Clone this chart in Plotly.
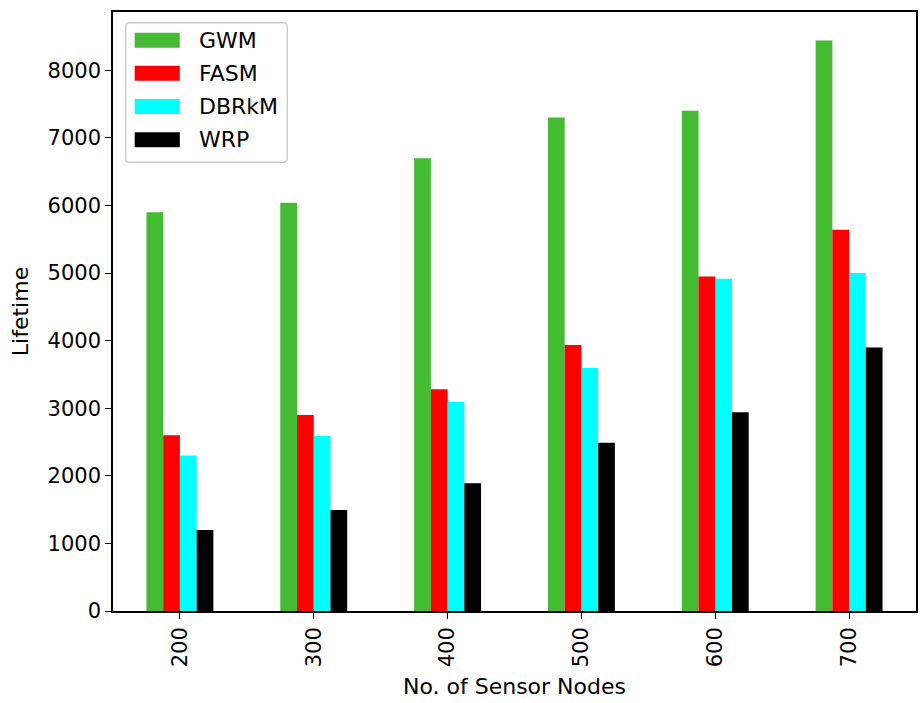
import plotly.graph_objects as go

# Network sizes (number of sensor nodes) and network lifetime per routing scheme
nodes = ["200", "300", "400", "500", "600", "700"]
gwm = [5900, 6040, 6700, 7300, 7400, 8440]
fasm = [2600, 2900, 3280, 3935, 4950, 5640]
dbrkm = [2300, 2590, 3095, 3595, 4915, 5000]
wrp = [1200, 1495, 1890, 2490, 2940, 3900]

series = [
    ("GWM", gwm, "#44BB33"),
    ("FASM", fasm, "#FF0000"),
    ("DBRkM", dbrkm, "#00FFFF"),
    ("WRP", wrp, "#000000"),
]

font_family = "DejaVu Sans"

fig = go.Figure()
for name, vals, color in series:
    fig.add_trace(go.Bar(
        x=list(range(len(nodes))),
        y=vals,
        name=name,
        marker=dict(color=color, line=dict(width=0)),
        showlegend=False,
    ))

ymax = max(gwm) * 1.05

# Legend frame with rounded corners (paper coordinates; plot area is 805 x 599 px)
lx0, lx1, ly0, ly1 = 0.0158, 0.2170, 0.7491, 0.9821
rx, ry = 4 / 805, 4 / 599
frame = (
    f"M {lx0 + rx},{ly1} L {lx1 - rx},{ly1} Q {lx1},{ly1} {lx1},{ly1 - ry} "
    f"L {lx1},{ly0 + ry} Q {lx1},{ly0} {lx1 - rx},{ly0} "
    f"L {lx0 + rx},{ly0} Q {lx0},{ly0} {lx0},{ly0 + ry} "
    f"L {lx0},{ly1 - ry} Q {lx0},{ly1} {lx0 + rx},{ly1} Z"
)
shapes = [dict(
    type="path", xref="paper", yref="paper", path=frame,
    line=dict(color="#CCCCCC", width=1.5),
    fillcolor="rgba(255,255,255,0.8)", layer="above",
)]
annotations = []
row_top = 0.9530
row_step = 0.0554
patch_h = 0.0250
for i, (name, _, color) in enumerate(series):
    yc = row_top - i * row_step
    shapes.append(dict(
        type="rect", xref="paper", yref="paper",
        x0=0.0270, x1=0.0832, y0=yc - patch_h / 2, y1=yc + patch_h / 2,
        line=dict(width=0), fillcolor=color, layer="above",
    ))
    annotations.append(dict(
        xref="paper", yref="paper", x=0.1045, y=yc,
        xanchor="left", yanchor="middle", showarrow=False,
        text=name, font=dict(family=font_family, size=22, color="black"),
    ))

fig.update_layout(
    width=924,
    height=703,
    margin=dict(l=113, r=6, t=12, b=92),
    paper_bgcolor="white",
    plot_bgcolor="white",
    barmode="group",
    bargap=0.5,
    bargroupgap=0,
    font=dict(family=font_family, size=21, color="black"),
    showlegend=False,
    shapes=shapes,
    annotations=annotations,
    xaxis=dict(
        range=[-0.5, len(nodes) - 0.5],
        tickmode="array",
        tickvals=list(range(len(nodes))),
        ticktext=nodes,
        tickangle=-90,
        ticks="outside", ticklen=6, tickwidth=1.3, tickcolor="black",
        showline=True, linecolor="black", linewidth=1.5, mirror=True,
        showgrid=False, zeroline=False,
        title=dict(text="No. of Sensor Nodes", font=dict(size=22), standoff=12),
        tickfont=dict(size=21),
    ),
    yaxis=dict(
        range=[0, ymax],
        tickmode="array",
        tickvals=list(range(0, 9000, 1000)),
        ticks="outside", ticklen=6, tickwidth=1.3, tickcolor="black",
        showline=True, linecolor="black", linewidth=1.5, mirror=True,
        showgrid=False, zeroline=False,
        title=dict(text="Lifetime", font=dict(size=22), standoff=13),
        tickfont=dict(size=21),
    ),
)

fig.write_html("out.html")
